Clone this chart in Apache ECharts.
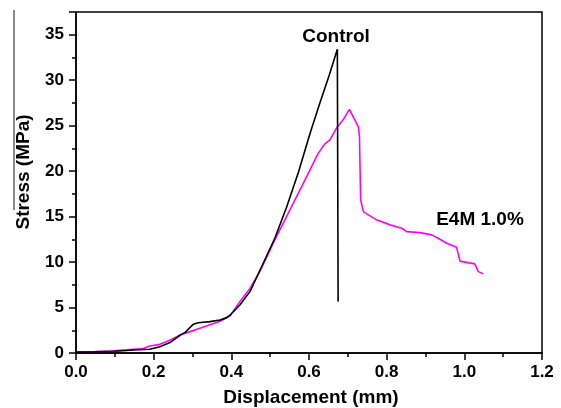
<!DOCTYPE html>
<html>
<head>
<meta charset="utf-8">
<script src="https://cdn.jsdelivr.net/npm/echarts@6/dist/echarts.min.js"></script>
<style>
html,body{margin:0;padding:0;background:#fff;}
#chart{width:561px;height:408px;}
</style>
</head>
<body>
<div id="chart"></div>
<script>
// Data
var controlX = [0, 0.05, 0.1, 0.15, 0.19, 0.216, 0.242, 0.268, 0.282, 0.292, 0.302, 0.315, 0.345, 0.371, 0.388, 0.397, 0.422, 0.448, 0.474, 0.512, 0.542, 0.573, 0.603, 0.628, 0.651, 0.673, 0.675];
var controlY = [0.1, 0.12, 0.2, 0.33, 0.42, 0.68, 1.15, 1.95, 2.3, 2.75, 3.15, 3.32, 3.45, 3.63, 3.89, 4.18, 5.28, 6.75, 9.13, 12.62, 16.0, 19.9, 24.2, 27.5, 30.4, 33.4, 5.65];
var e4mX = [0, 0.05, 0.088, 0.13, 0.173, 0.19, 0.216, 0.242, 0.268, 0.294, 0.319, 0.345, 0.371, 0.397, 0.422, 0.448, 0.474, 0.512, 0.551, 0.594, 0.624, 0.641, 0.654, 0.671, 0.688, 0.704, 0.727, 0.73, 0.733, 0.74, 0.749, 0.774, 0.809, 0.839, 0.852, 0.886, 0.916, 0.933, 0.955, 0.98, 0.985, 0.989, 1.01, 1.027, 1.036, 1.049];
var e4mY = [0.1, 0.15, 0.22, 0.35, 0.5, 0.77, 0.95, 1.4, 1.98, 2.35, 2.72, 3.1, 3.5, 4.1, 5.65, 7.1, 9.0, 12.44, 15.74, 19.4, 21.98, 23.0, 23.44, 24.73, 25.64, 26.8, 24.9, 23.8, 16.84, 15.55, 15.3, 14.64, 14.09, 13.72, 13.35, 13.24, 12.99, 12.62, 12.07, 11.63, 11.5, 10.1, 9.94, 9.8, 8.95, 8.7];
var xTicks = [0, 0.2, 0.4, 0.6, 0.8, 1.0, 1.2];
var yTicks = [0, 5, 10, 15, 20, 25, 30, 35];
var seriesNames = ['Control', 'E4M 1.0%'];

function pairs(xs, ys) { return xs.map(function (x, i) { return [x, ys[i]]; }); }

var font = 'Liberation Sans, Arial, sans-serif';
var chart = echarts.init(document.getElementById('chart'), null, {renderer: 'canvas'});
chart.setOption({
  animation: false,
  backgroundColor: '#fff',
  grid: {left: 76, right: 19, top: 12, bottom: 55, show: true, borderColor: '#000', borderWidth: 1.5, backgroundColor: 'transparent'},
  xAxis: [{
    type: 'value', min: xTicks[0], max: xTicks[xTicks.length - 1], interval: 0.2,
    axisLine: {show: true, onZero: false, lineStyle: {color: '#000', width: 1.5}},
    axisTick: {show: true, inside: false, length: 7, lineStyle: {color: '#000', width: 1.5}},
    minorTick: {show: true, splitNumber: 2, length: 4, lineStyle: {color: '#000', width: 1.5}},
    splitLine: {show: false},
    axisLabel: {margin: 11, color: '#000', fontSize: 17, fontWeight: 'bold', fontFamily: font,
      formatter: function (v) { return v.toFixed(1); }}
  }],
  yAxis: [{
    type: 'value', min: 0, max: 37.5, interval: 2.5,
    axisLine: {show: true, onZero: false, lineStyle: {color: '#000', width: 1.5}},
    axisTick: {show: true, inside: false, length: 4, lineStyle: {color: '#000', width: 1.5}},
    splitLine: {show: false},
    axisLabel: {margin: 12, color: '#000', fontSize: 17, fontWeight: 'bold', fontFamily: font,
      formatter: function (v) { return yTicks.indexOf(v) >= 0 ? String(v) : ''; }}
  }, {
    type: 'value', min: 0, max: 37.5, interval: 5, position: 'left',
    axisLine: {show: false},
    axisTick: {show: true, inside: false, length: 7, lineStyle: {color: '#000', width: 1.5}},
    splitLine: {show: false},
    axisLabel: {show: false}
  }],
  series: [{
    name: seriesNames[0], type: 'line', showSymbol: false, symbol: 'none',
    data: pairs(controlX, controlY),
    lineStyle: {color: '#000', width: 1.6}, z: 3
  }, {
    name: seriesNames[1], type: 'line', showSymbol: false, symbol: 'none',
    data: pairs(e4mX, e4mY),
    lineStyle: {color: '#ff00ff', width: 1.6}, z: 2
  }],
  graphic: [
    {type: 'line', shape: {x1: 14, y1: 10, x2: 14, y2: 210}, style: {stroke: '#8a8a8a', lineWidth: 2}},
    {type: 'text', x: 24, y: 172, rotation: Math.PI / 2,
      style: {text: 'Stress (MPa)', fill: '#000', font: 'bold 19px ' + font, textAlign: 'center', textVerticalAlign: 'middle'}},
    {type: 'text', x: 311, y: 398,
      style: {text: 'Displacement (mm)', fill: '#000', font: 'bold 19px ' + font, textAlign: 'center', textVerticalAlign: 'middle'}},
    {type: 'text', x: 336, y: 37,
      style: {text: seriesNames[0], fill: '#000', font: 'bold 19px ' + font, textAlign: 'center', textVerticalAlign: 'middle'}},
    {type: 'text', x: 480, y: 220,
      style: {text: seriesNames[1], fill: '#000', font: 'bold 19px ' + font, textAlign: 'center', textVerticalAlign: 'middle'}}
  ]
});
</script>
</body>
</html>
